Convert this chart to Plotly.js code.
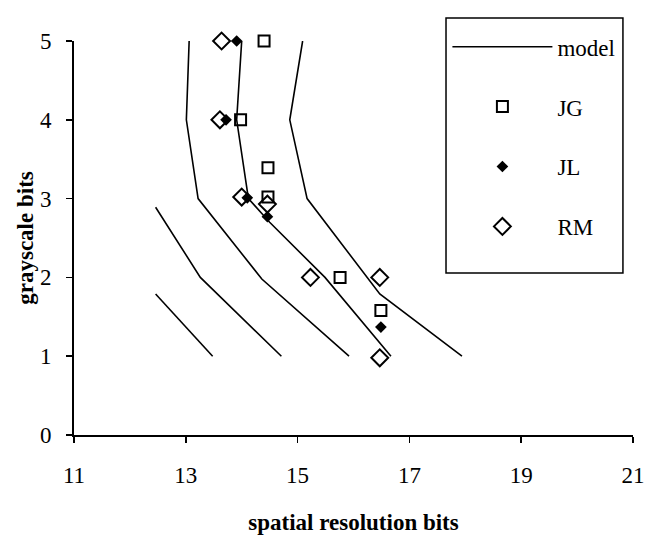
<!DOCTYPE html>
<html>
<head>
<meta charset="utf-8">
<script src="https://cdn.plot.ly/plotly-3.0.1.min.js"></script>
<style>html,body{margin:0;padding:0;background:#fff;}</style>
</head>
<body>
<div id="chart" style="width:652px;height:537px;"></div>
<script>
// Model curves (spatial resolution bits vs grayscale bits)
const modelA_x = [12.46, 13.48];
const modelA_y = [1.79, 1.0];
const modelB_x = [12.46, 13.26, 14.71];
const modelB_y = [2.89, 2.0, 1.0];
const modelC_x = [13.06, 13.01, 13.22, 14.36, 15.92];
const modelC_y = [5.0, 4.0, 3.0, 1.98, 1.0];
const modelD_x = [14.0, 13.91, 14.12, 14.5, 15.49, 16.67];
const modelD_y = [5.0, 4.0, 3.0, 2.7, 2.0, 1.0];
const modelE_x = [15.09, 14.86, 15.17, 16.47, 17.94];
const modelE_y = [5.0, 4.0, 3.0, 1.79, 1.0];

// Observers
const JG_x = [14.40, 13.98, 14.47, 14.47, 15.76, 16.49];
const JG_y = [5.0, 4.0, 3.39, 3.02, 2.0, 1.58];
const JL_x = [13.91, 13.72, 14.10, 14.46, 16.49];
const JL_y = [5.0, 4.0, 3.01, 2.77, 1.37];
const RM_x = [13.64, 13.61, 14.0, 14.46, 15.23, 16.47, 16.47];
const RM_y = [5.0, 4.0, 3.02, 2.93, 2.0, 2.0, 0.98];

const xTicks = [11, 13, 15, 17, 19, 21];
const yTicks = [0, 1, 2, 3, 4, 5];

const FONT = 'Liberation Serif, Times New Roman, serif';

const modelSets = [[modelA_x, modelA_y], [modelB_x, modelB_y], [modelC_x, modelC_y], [modelD_x, modelD_y], [modelE_x, modelE_y]];
const traces = modelSets.map((s, i) => ({
  x: s[0], y: s[1], type: 'scatter', mode: 'lines', name: 'model',
  line: {color: '#000', width: 1.6}, legendgroup: 'model', showlegend: i === 0,
  cliponaxis: false, hoverinfo: 'skip'
}));
traces.push({x: JG_x, y: JG_y, type: 'scatter', mode: 'markers', name: 'JG', legendgroup: 'JG',
  marker: {symbol: 'square-open', size: 11, color: '#000', line: {width: 2, color: '#000'}}, cliponaxis: false});
traces.push({x: JL_x, y: JL_y, type: 'scatter', mode: 'markers', name: 'JL', legendgroup: 'JL',
  marker: {symbol: 'diamond', size: 9, color: '#000'}, cliponaxis: false});
traces.push({x: RM_x, y: RM_y, type: 'scatter', mode: 'markers', name: 'RM', legendgroup: 'RM',
  marker: {symbol: 'diamond-open', size: 13, color: '#000', line: {width: 2, color: '#000'}}, cliponaxis: false});

const axisCommon = {showgrid: false, zeroline: false, linecolor: '#000', linewidth: 2,
  tickcolor: '#000', tickwidth: 1.5, ticklen: 6, ticks: 'outside', tickmode: 'array'};

const layout = {
  width: 652, height: 537,
  margin: {l: 74, r: 19, t: 41, b: 102},
  paper_bgcolor: '#fff', plot_bgcolor: '#fff',
  font: {family: FONT, color: '#000', size: 23},
  showlegend: true,
  legend: {x: 0.668, y: 1.04, xanchor: 'left', yanchor: 'top', bgcolor: 'rgba(0,0,0,0)',
    borderwidth: 0, font: {family: FONT, size: 23, color: '#000'},
    itemwidth: 100, tracegroupgap: 27, traceorder: 'grouped', itemclick: false},
  shapes: [{type: 'rect', xref: 'paper', yref: 'paper', x0: 0.6655, x1: 0.982, y0: 0.411, y1: 1.0584,
    line: {color: '#000', width: 1.5}, fillcolor: 'rgba(0,0,0,0)', layer: 'above'}],
  xaxis: Object.assign({}, axisCommon, {range: [11, 21], tickvals: xTicks, ticktext: xTicks.map(String),
    showline: true, ticklabelstandoff: 12,
    title: {text: '<b>spatial resolution bits</b>', font: {family: FONT, size: 23}, standoff: 27}}),
  yaxis: Object.assign({}, axisCommon, {range: [0, 5], tickvals: yTicks, ticktext: yTicks.map(String),
    showline: true, ticklabelstandoff: 10,
    title: {text: '<b>grayscale bits</b>', font: {family: FONT, size: 23}, standoff: 0}}),
  xaxis2: Object.assign({}, axisCommon, {range: [11, 21], overlaying: 'x', anchor: 'y', side: 'bottom',
    tickvals: xTicks, ticks: 'inside', showticklabels: false, showline: false}),
  yaxis2: Object.assign({}, axisCommon, {range: [0, 5], overlaying: 'y', anchor: 'x', side: 'left',
    tickvals: yTicks, ticks: 'inside', showticklabels: false, showline: false})
};

Plotly.newPlot('chart', traces, layout, {displayModeBar: false, staticPlot: true});
</script>
</body>
</html>
